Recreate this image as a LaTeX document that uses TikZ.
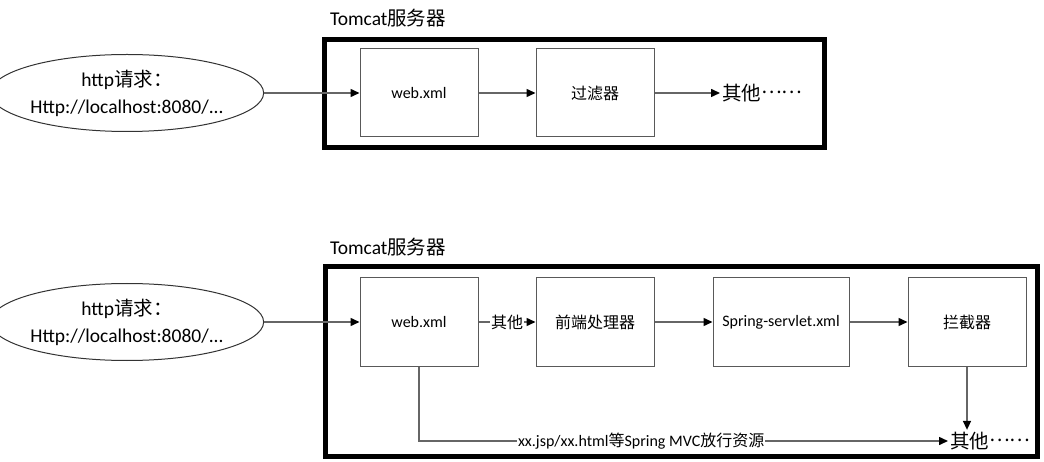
\documentclass[tikz,border=0pt]{standalone}
\usepackage{fontspec}
\setmainfont{Carlito}
\newfontfamily\cjk{Noto Sans CJK SC}
\usepackage{tikz}
\usetikzlibrary{positioning}
\usetikzlibrary{arrows.meta,shapes.geometric}

\newcommand{\zh}[1]{{\cjk #1}}
\newcommand{\middots}{\raisebox{0.33em}{\zh{……}}}
\newcommand{\bigtext}{\fontsize{19.5}{27}\selectfont}
\newcommand{\smalltext}{\fontsize{16}{19}\selectfont}

\begin{document}
\begin{tikzpicture}
            [x=1pt, y=-1pt,
            frame/.style={line width=5pt},
            box/.style={draw=boxgray, line width=1pt, minimum width=118pt, minimum height=88pt, inner sep=0pt, font=\smalltext},
            request/.style={ellipse, draw=black!80, line width=1pt, minimum width=253pt, minimum height=77pt, inner sep=0pt, align=center, font=\bigtext},
            link/.style={draw=linkgray, line width=1.5pt, -{Triangle[black, length=9pt, width=8pt]}},
            ]
            \colorlet{boxgray}{black!65}
            \colorlet{linkgray}{black!60}
            \useasboundingbox (0,0) rectangle (1044,462);

            % upper picture: request without Spring MVC
            \begin{scope}[shift={(0,0)}]
                \node[request] (req1) at (127,93) {http\zh{请求：}\\Http://localhost:8080/...};
                \node[font=\bigtext] (title1) at (388,18) {Tomcat\zh{服务器}};
                \draw[frame] (324,40) rectangle (824,148);
                \node[box] (web1) at (419,93) {web.xml};
                \node[box] (filter) at (595,93) {\zh{过滤器}};
                \node[font=\bigtext, anchor=west, inner sep=2pt] (other1) at (720,93) {\zh{其他}\middots};

                \draw[link] (req1) -- (web1);
                \draw[link] (web1) -- (filter);
                \draw[link] (filter) -- (other1);
            \end{scope}

            % lower picture: request through Spring MVC
            \begin{scope}[shift={(0,229)}]
                \node[request] (req2) at (127,93) {http\zh{请求：}\\Http://localhost:8080/...};
                \node[font=\bigtext] (title2) at (388,18) {Tomcat\zh{服务器}};
                \draw[frame] (325,38) rectangle (1037,227);
                \node[box] (web2) at (419,93) {web.xml};
                \node[box] (front) at (595,93) {\zh{前端处理器}};
                \node[box, minimum width=136pt] (springxml) at (781,93) {Spring-servlet.xml};
                \node[box] (intercept) at (967,93) {\zh{拦截器}};
                \node[font=\bigtext, anchor=west, inner sep=2pt] (other2) at (948,212) {\zh{其他}\middots};

                \draw[link] (req2) -- (web2);
                \draw[link] (web2) -- node[fill=white, font=\smalltext, inner sep=1pt] {\zh{其他}} (front);
                \draw[link] (front) -- (springxml);
                \draw[link] (springxml) -- (intercept);
                \draw[link] (intercept) -- (intercept.south |- other2.north);
                \draw[link] (web2) |- node[pos=0.71, fill=white, font=\smalltext, inner sep=1pt] {xx.jsp/xx.html\zh{等}Spring MVC\zh{放行资源}} (other2);
            \end{scope}
        \end{tikzpicture}
\end{document}
